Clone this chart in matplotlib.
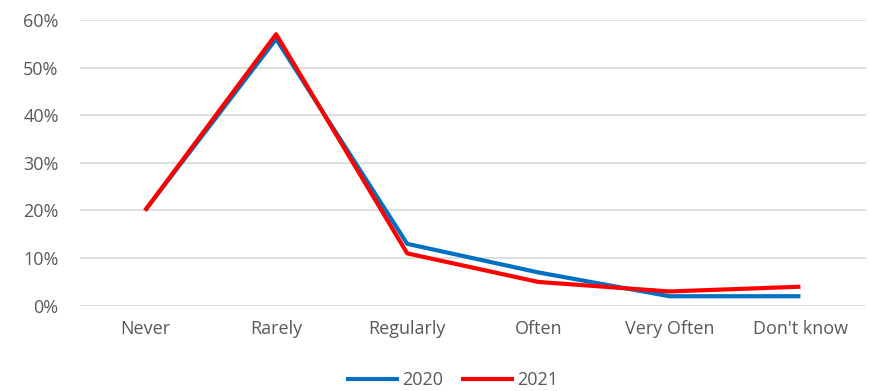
import matplotlib.pyplot as plt
from matplotlib.ticker import PercentFormatter

categories = ["Never", "Rarely", "Regularly", "Often", "Very Often", "Don't know"]
values_2020 = [20, 56, 13, 7, 2, 2]
values_2021 = [20, 57, 11, 5, 3, 4]

plt.rcParams['font.family'] = ['Open Sans', 'DejaVu Sans']

fig = plt.figure(figsize=(8.69, 3.91), dpi=100)
ax = fig.add_axes([0.0915, 0.218, 0.905, 0.731])

x = range(len(categories))
ax.plot(x, values_2020, color="#0070C0", lw=3, label="2020", solid_capstyle="butt")
ax.plot(x, values_2021, color="#FF0000", lw=3, label="2021", solid_capstyle="butt")

ax.set_xlim(-0.5, len(categories) - 0.5)
ax.set_ylim(0, 60)
ax.set_yticks(range(0, 61, 10))
ax.yaxis.set_major_formatter(PercentFormatter(decimals=0))
ax.set_xticks(list(x))
ax.set_xticklabels(categories)
ax.grid(axis="y", color="#D9D9D9", lw=1.2)
ax.set_axisbelow(True)
for s in ax.spines.values():
    s.set_visible(False)
ax.tick_params(length=0, labelsize=13, colors="#595959", pad=10)
ax.tick_params(axis="y", pad=15)
for line in ax.lines:
    line.set_clip_on(False)

leg = ax.legend(loc="center", bbox_to_anchor=(0.474, -0.26), ncol=2, frameon=False,
                fontsize=13, handlelength=2.9, columnspacing=1.0, handletextpad=0.2)
for t in leg.get_texts():
    t.set_color("#595959")

fig.savefig("out.png", dpi=100)
